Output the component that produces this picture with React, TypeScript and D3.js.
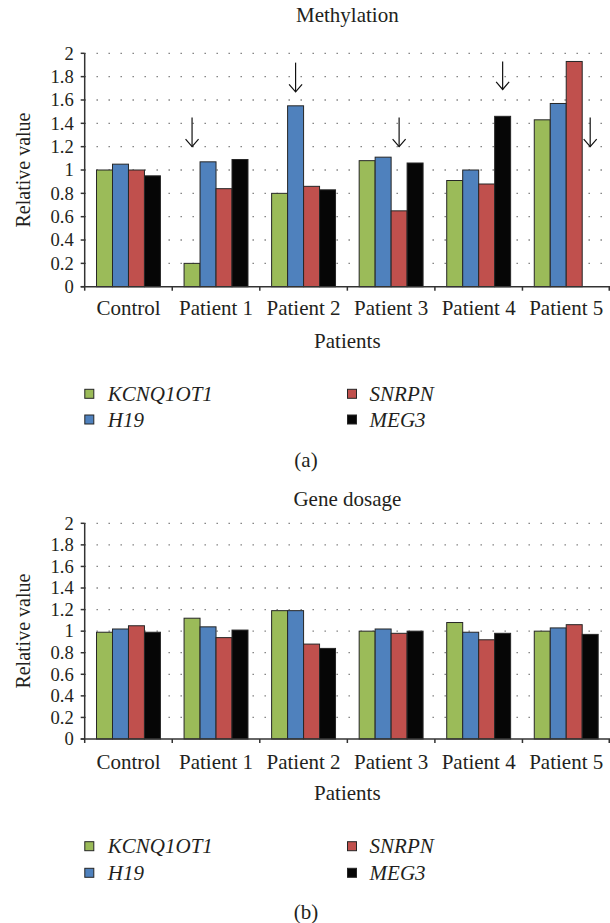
import React from "react";
import * as d3 from "d3";

const categories = ["Control", "Patient 1", "Patient 2", "Patient 3", "Patient 4", "Patient 5"];
const seriesNames = ["KCNQ1OT1", "H19", "SNRPN", "MEG3"];
const seriesColors = ["#9BBB59", "#4F81BD", "#C0504D", "#060606"];

const methylationKCNQ1OT1 = [1.0, 0.2, 0.8, 1.08, 0.91, 1.43];
const methylationH19 = [1.05, 1.07, 1.55, 1.11, 1.0, 1.57];
const methylationSNRPN = [1.0, 0.84, 0.86, 0.65, 0.88, 1.93];
const methylationMEG3 = [0.95, 1.09, 0.83, 1.06, 1.46, null];

const dosageKCNQ1OT1 = [0.99, 1.12, 1.19, 1.0, 1.08, 1.0];
const dosageH19 = [1.02, 1.04, 1.19, 1.02, 0.99, 1.03];
const dosageSNRPN = [1.05, 0.94, 0.88, 0.98, 0.92, 1.06];
const dosageMEG3 = [0.99, 1.01, 0.84, 1.0, 0.98, 0.97];

const yTicks = [0, 0.2, 0.4, 0.6, 0.8, 1, 1.2, 1.4, 1.6, 1.8, 2];

// arrows: category, series, arrow tip value, arrow tail value
const methylationArrowCats = ["Patient 1", "Patient 2", "Patient 3", "Patient 4", "Patient 5"];
const methylationArrowSeries = ["KCNQ1OT1", "H19", "SNRPN", "MEG3", "MEG3"];
const methylationArrowTips = [1.2, 1.67, 1.2, 1.69, 1.2];
const methylationArrowTails = [1.45, 1.92, 1.45, 1.93, 1.45];

const FONT = "'Liberation Serif', 'Times New Roman', serif";
const TXT = "#231f20";

type ChartProps = {
  title: string;
  series: (number | null)[][];
  y0: number;
  y2: number;
  titleY: number;
  xLabelY: number;
  axisTitleY: number;
  legendY1: number;
  legendY2: number;
  caption: string;
  captionY: number;
  arrows?: { cat: string; ser: string; tip: number; tail: number }[];
};

function Chart(p: ChartProps) {
  const left = 84.7;
  const right = 610;
  const x0 = d3.scaleBand<string>().domain(categories).range([left, right]);
  const bw = x0.bandwidth();
  const x1 = d3
    .scaleBand<string>()
    .domain(seriesNames)
    .range([bw * 0.135, bw * 0.865]);
  const y = d3.scaleLinear().domain([0, 2]).range([p.y0, p.y2]);
  const fs = 21;
  const off = 7;
  const tfs = 18.6;
  const midX = (left + right) / 2;

  const gridTicks = yTicks.filter((t) => t > 0);

  return (
    <g>
      <text x={midX} y={p.titleY} textAnchor="middle" fontFamily={FONT} fontSize={fs} fill={TXT}>
        {p.title}
      </text>
      {gridTicks.map((t) => (
        <line
          key={"g" + t}
          x1={left}
          x2={right}
          y1={y(t)}
          y2={y(t)}
          stroke="#7a7a7a"
          strokeWidth={1.3}
          strokeDasharray="1.4 10.6"
          strokeDashoffset={0.2}
        />
      ))}
      {categories.map((c, ci) => (
        <g key={c} transform={`translate(${x0(c)},0)`}>
          {seriesNames.map((s, si) => {
            const v = p.series[si][ci];
            if (v == null) return null;
            return (
              <rect
                key={s}
                x={x1(s)}
                width={x1.bandwidth()}
                y={y(v)}
                height={y(0) - y(v)}
                fill={seriesColors[si]}
                stroke="#262626"
                strokeWidth={1}
              />
            );
          })}
        </g>
      ))}
      {(p.arrows || []).map((a, i) => {
        const cx = (x0(a.cat) as number) + (x1(a.ser) as number) + x1.bandwidth() / 2;
        const ty = y(a.tip);
        const tl = y(a.tail);
        return (
          <g key={"a" + i} stroke="#111" strokeWidth={1.2} fill="none">
            <line x1={cx} x2={cx} y1={tl} y2={ty} />
            <polyline points={`${cx - 6.5},${ty - 7.5} ${cx},${ty} ${cx + 6.5},${ty - 7.5}`} />
          </g>
        );
      })}
      <line x1={left} x2={left} y1={y(0)} y2={y(2)} stroke="#333" strokeWidth={1.5} />
      {yTicks.map((t) => (
        <g key={"yt" + t}>
          <line x1={left - 4} x2={left} y1={y(t)} y2={y(t)} stroke="#333" strokeWidth={1.5} />
          <text
            x={left - 11}
            y={y(t) + 6.3}
            textAnchor="end"
            fontFamily={FONT}
            fontSize={tfs}
            fill={TXT}
          >
            {String(+t.toFixed(1))}
          </text>
        </g>
      ))}
      <line x1={left - 4} x2={right} y1={y(0)} y2={y(0)} stroke="#333" strokeWidth={1.5} />
      {categories.map((c) => (
        <line
          key={"xt" + c}
          x1={x0(c)}
          x2={x0(c)}
          y1={y(0)}
          y2={y(0) + 4}
          stroke="#333"
          strokeWidth={1.5}
        />
      ))}
      <line x1={right - 0.75} x2={right - 0.75} y1={y(0)} y2={y(0) + 4} stroke="#333" strokeWidth={1.5} />
      {categories.map((c) => (
        <text
          key={"xl" + c}
          x={(x0(c) as number) + bw / 2}
          y={p.xLabelY}
          textAnchor="middle"
          fontFamily={FONT}
          fontSize={fs}
          fill={TXT}
        >
          {c}
        </text>
      ))}
      <text x={midX} y={p.axisTitleY} textAnchor="middle" fontFamily={FONT} fontSize={fs} fill={TXT}>
        Patients
      </text>
      <text
        transform={`translate(${30},${(y(0) + y(2)) / 2}) rotate(-90)`}
        textAnchor="middle"
        fontFamily={FONT}
        fontSize={20}
        fill={TXT}
      >
        Relative value
      </text>
      {seriesNames.map((s, si) => {
        const col = si === 0 || si === 1 ? 0 : 1;
        const row = si === 0 || si === 2 ? 0 : 1;
        const sx = col === 0 ? 84.8 : 347.5;
        const tx = col === 0 ? 107.8 : 369.6;
        const cy = row === 0 ? p.legendY1 : p.legendY2;
        return (
          <g key={"lg" + s}>
            <rect x={sx} y={cy - 4.5} width={9} height={9} fill={seriesColors[si]} stroke="#262626" strokeWidth={1} />
            <text x={tx} y={cy + off} fontFamily={FONT} fontStyle="italic" fontSize={fs} fill={TXT}>
              {s}
            </text>
          </g>
        );
      })}
      <text x={306} y={p.captionY} textAnchor="middle" fontFamily={FONT} fontSize={fs} fill={TXT}>
        {p.caption}
      </text>
    </g>
  );
}

export default function App() {
  const methArrows = methylationArrowCats.map((c, i) => ({
    cat: c,
    ser: methylationArrowSeries[i],
    tip: methylationArrowTips[i],
    tail: methylationArrowTails[i],
  }));
  return (
    <svg
      width={610}
      height={923}
      viewBox="0 0 610 923"
      style={{ position: "absolute", left: 0, top: 0, background: "#fff" }}
    >
      <rect width={610} height={923} fill="#fff" />
      <Chart
        title="Methylation"
        series={[methylationKCNQ1OT1, methylationH19, methylationSNRPN, methylationMEG3]}
        y0={286.7}
        y2={53.3}
        titleY={22}
        xLabelY={315.3}
        axisTitleY={347.5}
        legendY1={393.8}
        legendY2={419.5}
        caption="(a)"
        captionY={466.5}
        arrows={methArrows}
      />
      <Chart
        title="Gene dosage"
        series={[dosageKCNQ1OT1, dosageH19, dosageSNRPN, dosageMEG3]}
        y0={739}
        y2={523.3}
        titleY={506}
        xLabelY={768.5}
        axisTitleY={800.3}
        legendY1={846.2}
        legendY2={872.8}
        caption="(b)"
        captionY={918.5}
      />
    </svg>
  );
}
